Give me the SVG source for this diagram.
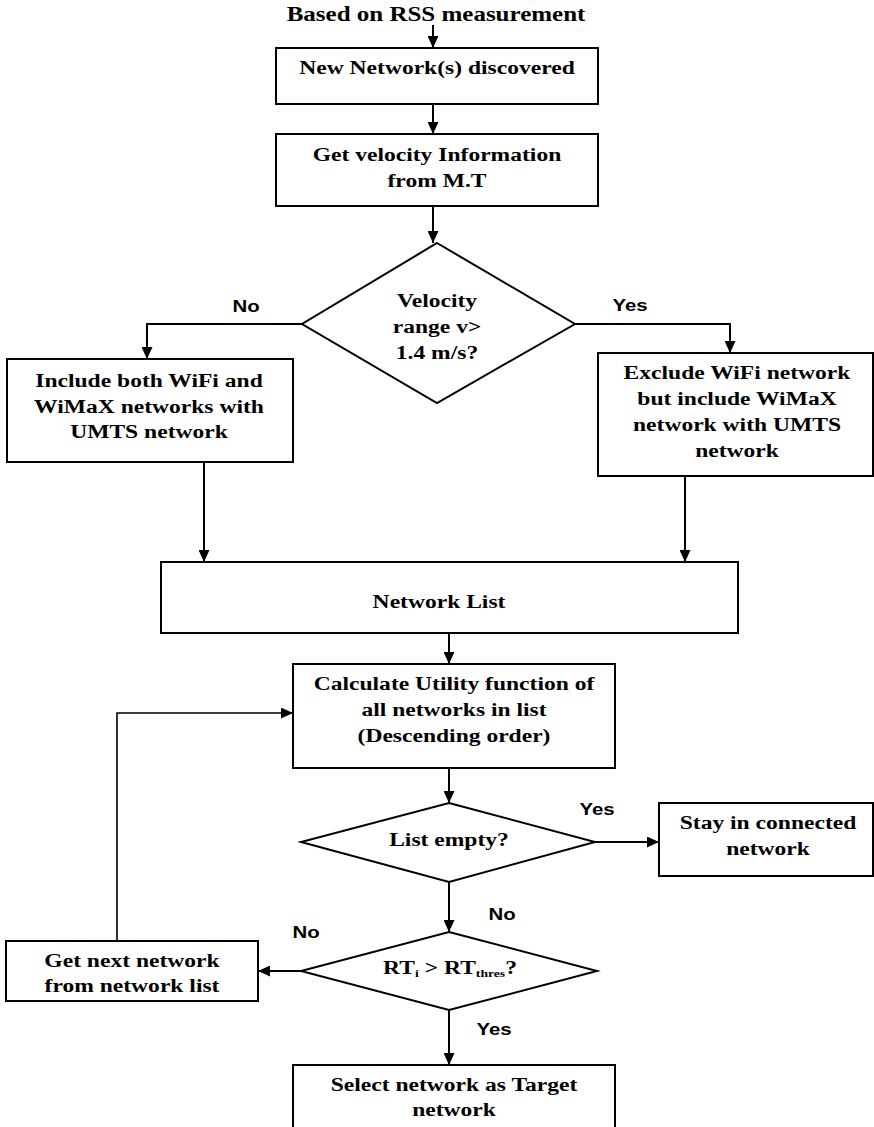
<svg xmlns="http://www.w3.org/2000/svg" width="874" height="1127" viewBox="0 0 874 1127">
<style>
  .box{fill:#fff;stroke:#000;stroke-width:2}
  .t{font-family:"Liberation Serif","Times New Roman",serif;font-weight:bold;font-size:19px;text-anchor:middle;fill:#000}
  .t2{font-size:20px}
  .lbl{font-family:"Liberation Sans",Arial,sans-serif;font-weight:bold;font-size:17px;text-anchor:middle;fill:#000}
  .sub{font-size:11px}
  .c{fill:none;stroke:#000;stroke-width:2}
  .thin{stroke-width:1.6}
</style>
<defs>
  <marker id="ah" markerUnits="userSpaceOnUse" markerWidth="12" markerHeight="11" refX="12" refY="5.5" orient="auto">
    <path d="M0,0 L12,5.5 L0,11 z" fill="#000"/>
  </marker>
</defs>
<rect width="874" height="1127" fill="#fff"/>

<g id="connectors">
  <line class="c" x1="433" y1="25" x2="433" y2="48" marker-end="url(#ah)"/>
  <line class="c" x1="433" y1="104" x2="433" y2="134" marker-end="url(#ah)"/>
  <line class="c" x1="433" y1="206" x2="433" y2="243" marker-end="url(#ah)"/>
  <polyline class="c" points="302,324 147,324 147,359" marker-end="url(#ah)"/>
  <polyline class="c" points="575,324 730,324 730,353" marker-end="url(#ah)"/>
  <line class="c" x1="204" y1="462" x2="204" y2="562" marker-end="url(#ah)"/>
  <line class="c" x1="685" y1="476" x2="685" y2="562" marker-end="url(#ah)"/>
  <line class="c" x1="449" y1="633" x2="449" y2="664" marker-end="url(#ah)"/>
  <line class="c" x1="449" y1="768" x2="449" y2="803" marker-end="url(#ah)"/>
  <line class="c" x1="595" y1="842" x2="659" y2="842" marker-end="url(#ah)"/>
  <line class="c" x1="449" y1="882" x2="449" y2="932" marker-end="url(#ah)"/>
  <line class="c" x1="301" y1="971" x2="258" y2="971" marker-end="url(#ah)"/>
  <polyline class="c thin" points="117,941 117,713 293,713" marker-end="url(#ah)"/>
  <line class="c" x1="449" y1="1010" x2="449" y2="1065" marker-end="url(#ah)"/>
  <text class="lbl" transform="translate(246 312) scale(1.2 1)">No</text>
  <text class="lbl" transform="translate(630 311) scale(1.2 1)">Yes</text>
  <text class="lbl" transform="translate(597 815) scale(1.2 1)">Yes</text>
  <text class="lbl" transform="translate(502 920) scale(1.2 1)">No</text>
  <text class="lbl" transform="translate(306 938) scale(1.2 1)">No</text>
  <text class="lbl" transform="translate(494 1035) scale(1.2 1)">Yes</text>
</g>

<g id="start">
  <text class="t t2" transform="translate(436 21) scale(1.25 1)">Based on RSS measurement</text>
</g>

<g id="discovered">
  <rect class="box" x="276" y="48" width="322" height="56"/>
  <text class="t" transform="translate(437 74) scale(1.24 1)">New Network(s) discovered</text>
</g>

<g id="velocity-info">
  <rect class="box" x="276" y="134" width="322" height="72"/>
  <text class="t" transform="translate(437 161) scale(1.24 1)"><tspan x="0" y="0">Get velocity Information</tspan><tspan x="0" y="26">from M.T</tspan></text>
</g>

<g id="velocity-decision">
  <polygon class="box" points="437,243 575,324 437,403 302,324"/>
  <text class="t" transform="translate(437 307) scale(1.24 1)"><tspan x="0" y="0">Velocity</tspan><tspan x="0" y="26">range v&gt;</tspan><tspan x="0" y="52">1.4 m/s?</tspan></text>
</g>

<g id="include-both">
  <rect class="box" x="7" y="359" width="286" height="103"/>
  <text class="t" transform="translate(149 387) scale(1.24 1)"><tspan x="0" y="0">Include both WiFi and</tspan><tspan x="0" y="26">WiMaX networks with</tspan><tspan x="0" y="51">UMTS network</tspan></text>
</g>

<g id="exclude-wifi">
  <rect class="box" x="598" y="353" width="275" height="123"/>
  <text class="t" transform="translate(737 379) scale(1.24 1)"><tspan x="0" y="0">Exclude WiFi network</tspan><tspan x="0" y="26">but include WiMaX</tspan><tspan x="0" y="52">network with UMTS</tspan><tspan x="0" y="78">network</tspan></text>
</g>

<g id="network-list">
  <rect class="box" x="161" y="562" width="577" height="71"/>
  <text class="t" transform="translate(439 608) scale(1.24 1)">Network List</text>
</g>

<g id="calculate">
  <rect class="box" x="293" y="664" width="322" height="104"/>
  <text class="t" transform="translate(454 690) scale(1.24 1)"><tspan x="0" y="0">Calculate Utility function of</tspan><tspan x="0" y="26">all networks in list</tspan><tspan x="0" y="52">(Descending order)</tspan></text>
</g>

<g id="list-empty">
  <polygon class="box" points="449,803 595,842 449,882 301,842"/>
  <text class="t" transform="translate(449 846) scale(1.24 1)">List empty?</text>
</g>

<g id="stay">
  <rect class="box" x="659" y="803" width="214" height="73"/>
  <text class="t" transform="translate(768 829) scale(1.24 1)"><tspan x="0" y="0">Stay in connected</tspan><tspan x="0" y="26">network</tspan></text>
</g>

<g id="rt-decision">
  <polygon class="box" points="449,932 597,971 449,1010 301,971"/>
  <text class="t" transform="translate(450 974) scale(1.24 1)">RT<tspan class="sub" dy="3">i</tspan><tspan dy="-3"> &gt; RT</tspan><tspan class="sub" dy="3">thres</tspan><tspan dy="-3">?</tspan></text>
</g>

<g id="next-network">
  <rect class="box" x="6" y="941" width="252" height="60"/>
  <text class="t" transform="translate(132 967) scale(1.24 1)"><tspan x="0" y="0">Get next network</tspan><tspan x="0" y="25">from network list</tspan></text>
</g>

<g id="select-target">
  <rect class="box" x="293" y="1065" width="322" height="66"/>
  <text class="t" transform="translate(454 1091) scale(1.24 1)"><tspan x="0" y="0">Select network as Target</tspan><tspan x="0" y="25">network</tspan></text>
</g>
</svg>
